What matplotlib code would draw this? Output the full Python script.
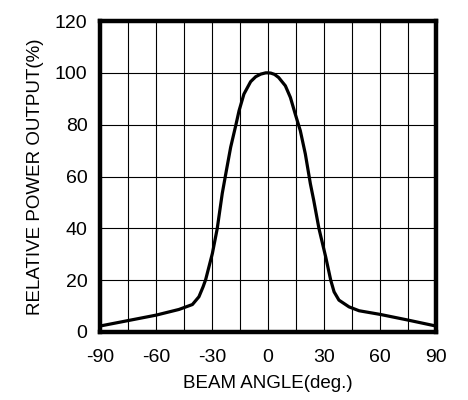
import matplotlib
matplotlib.use("Agg")
import matplotlib.pyplot as plt

angles = [-90, -75, -60, -47.7, -40.5, -37, -34.8, -33.4, -29.8, -27.2, -24.5, -22.3,
          -20, -17.3, -15.5, -12.9, -9.3, -6.6, -3.9, -1.2, 0, 1.5, 3.5, 5.7, 9.3, 12,
          14.6, 17.3, 20, 22.7, 24.5, 27.3, 30.9, 33.6, 35.4, 38, 43.4, 48.8, 60, 75, 90]
power = [2.3, 4.4, 6.5, 8.7, 10.6, 13.6, 17.4, 20.2, 30.3, 39.9, 53.5, 62.3,
         71.3, 79.6, 85.4, 91.8, 96.6, 98.5, 99.5, 100, 100, 99.9, 99.4, 98.2, 95, 90.5,
         84.1, 77.7, 68.7, 57.2, 50.8, 39.9, 29, 20, 15.5, 12.3, 9.7, 8.2, 6.8, 4.6, 2.3]
xticks = [-90, -60, -30, 0, 30, 60, 90]
xminor = [-75, -45, -15, 15, 45, 75]
yticks = [0, 20, 40, 60, 80, 100, 120]

plt.rcParams['font.family'] = ['Liberation Sans', 'DejaVu Sans']

fig = plt.figure(figsize=(4.68, 4.0), dpi=100)
ax = fig.add_axes([100/468, 1-332/400, 336/468, 311/400])
ax.plot(angles, power, color='black', lw=2.3, solid_joinstyle='round',
        solid_capstyle='round', zorder=3)
ax.set_xlim(-90, 90)
ax.set_ylim(0, 120)
ax.set_xticks(xticks)
ax.set_xticks(xminor, minor=True)
ax.set_yticks(yticks)
ax.set_xticklabels([f"-{abs(t):d}" if t < 0 else f"{t:d}" for t in xticks])
ax.grid(True, which='both', axis='x', color='black', lw=0.8)
ax.grid(True, which='major', axis='y', color='black', lw=0.8)
ax.tick_params(which='both', length=0, labelsize=14)
ax.tick_params(axis='x', pad=12)
ax.tick_params(axis='y', pad=9)
for s in ax.spines.values():
    s.set_linewidth(3.2)
    s.set_zorder(4)
ax.set_xlabel("BEAM ANGLE(deg.)", fontsize=13.5, labelpad=7)
ax.set_ylabel("RELATIVE POWER OUTPUT(%)", fontsize=13.5, labelpad=8)

fig.savefig("out.png", dpi=100)
